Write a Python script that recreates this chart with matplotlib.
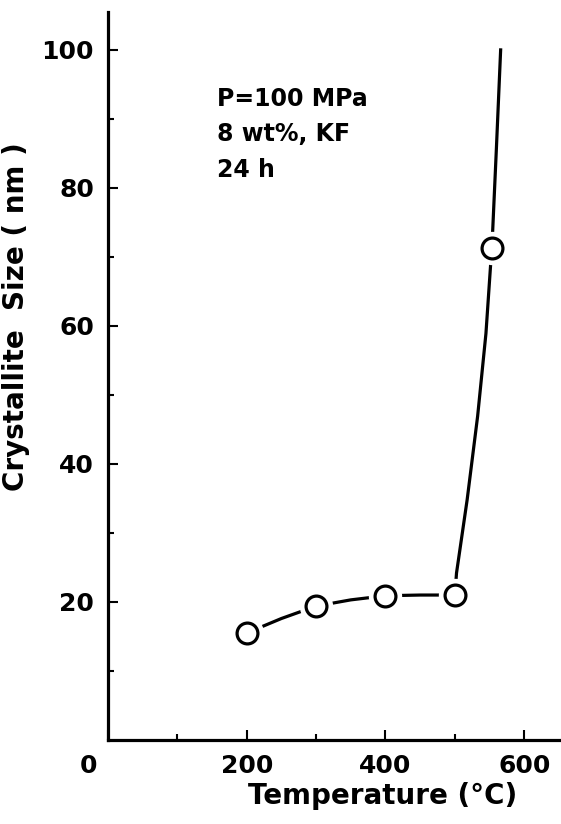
import numpy as np
import matplotlib
matplotlib.use("Agg")
import matplotlib.pyplot as plt
from matplotlib.transforms import ScaledTranslation

# measured points
temp = [200, 300, 400, 500, 553]
size = [15.5, 19.4, 20.9, 21.0, 71.3]

# hand-drawn guide curve
curve_temp = [200, 250, 300, 350, 400, 450, 500, 502.4, 517.7, 532.8, 544.8, 551.5,
              553.4, 560, 566]
curve_size = [15.5, 17.6, 19.4, 20.3, 20.9, 21.0, 21.0, 24.2, 34.8, 46.9, 58.9, 68.8,
              71.3, 86.0, 100.0]

xticks = [0, 200, 400, 600]
yticks = [20, 40, 60, 80, 100]
note = "P=100 MPa\n8 wt%, KF\n24 h"

plt.rcParams["font.family"] = "DejaVu Sans"
plt.rcParams["font.weight"] = "bold"
plt.rcParams["axes.labelweight"] = "bold"

fig = plt.figure(figsize=(5.61, 8.24), dpi=100)
ax = fig.add_axes([0.1925, 0.102, 0.8075, 0.8835])

ax.plot(curve_temp, curve_size, color="black", linewidth=2.3, zorder=2,
        solid_joinstyle="round")
# white halo so the line stops short of each circle
ax.plot(temp, size, linestyle="none", marker="o", markersize=23,
        markerfacecolor="white", markeredgecolor="white", zorder=3)
ax.plot(temp, size, linestyle="none", marker="o", markersize=15,
        markerfacecolor="white", markeredgecolor="black", markeredgewidth=2.3, zorder=4)

ax.set_xlim(0, 653)
ax.set_ylim(0, 105.5)

ax.spines["top"].set_visible(False)
ax.spines["right"].set_visible(False)
ax.spines["left"].set_linewidth(2.3)
ax.spines["bottom"].set_linewidth(2.3)

ax.set_xticks(xticks)
ax.set_xticks([100, 300, 500], minor=True)
ax.set_yticks(yticks)
ax.set_yticks([10, 30, 50, 70, 90], minor=True)
ax.tick_params(which="major", direction="in", length=7, width=1.5, labelsize=18, pad=10)
ax.tick_params(which="minor", direction="in", length=4, width=1.5)

lab0 = ax.get_xticklabels()[0]
lab0.set_transform(lab0.get_transform() + ScaledTranslation(-19 / 100, 0, fig.dpi_scale_trans))

ax.set_xlabel("Temperature (°C)", fontsize=20)
ax.xaxis.set_label_coords(0.607, -0.058)
ax.set_ylabel("Crystallite  Size ( nm )", fontsize=20)
ax.yaxis.set_label_coords(-0.172, 0.582)

ax.text(0.24, 0.897, note, transform=ax.transAxes, fontsize=17,
        va="top", ha="left", linespacing=1.6)

fig.savefig("out.png", dpi=100)
